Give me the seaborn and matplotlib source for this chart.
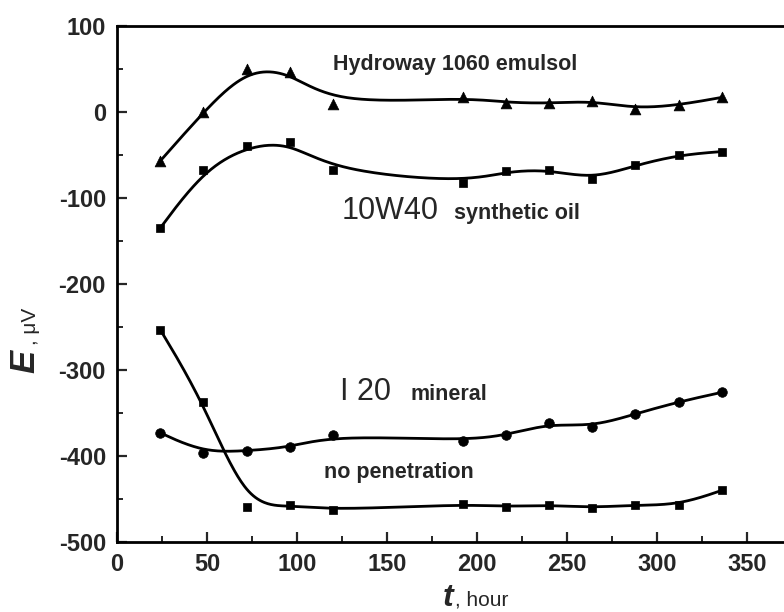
import numpy as np
import pandas as pd
import matplotlib
matplotlib.use("Agg")
import matplotlib.pyplot as plt
import seaborn as sns

# exposure time, hours
hours = [24, 48, 72, 96, 120, 192, 216, 240, 264, 288, 312, 336]

# E, microvolts
hydroway = [-57, 0, 50, 47, 9, 17, 11, 10, 13, 4, 8, 17]
synthetic = [-135, -68, -40, -35, -68, -82, -69, -67, -78, -62, -50, -46]
mineral = [-373, -396, -394, -390, -376, -382, -376, -362, -366, -351, -337, -326]
no_pen = [-253, -337, -459, -457, -463, -456, -459, -457, -460, -457, -457, -440]

series = [("hydroway", hydroway, "^", 60),
          ("synthetic", synthetic, "s", 38),
          ("mineral", mineral, "o", 48),
          ("no_pen", no_pen, "s", 38)]


def bspline(x, y, n=40):
    # clamped uniform cubic B-spline using the points as control points
    px = np.r_[[x[0]] * 2, x, [x[-1]] * 2].astype(float)
    py = np.r_[[y[0]] * 2, y, [y[-1]] * 2].astype(float)
    t = np.linspace(0, 1, n)
    b0 = (1 - t) ** 3 / 6
    b1 = (3 * t ** 3 - 6 * t ** 2 + 4) / 6
    b2 = (-3 * t ** 3 + 3 * t ** 2 + 3 * t + 1) / 6
    b3 = t ** 3 / 6
    xs, ys = [], []
    for i in range(len(px) - 3):
        xs.append(b0 * px[i] + b1 * px[i + 1] + b2 * px[i + 2] + b3 * px[i + 3])
        ys.append(b0 * py[i] + b1 * py[i + 1] + b2 * py[i + 2] + b3 * py[i + 3])
    return np.concatenate(xs), np.concatenate(ys)


sns.set_style("ticks")
plt.rcParams['font.family'] = ['Liberation Sans', 'DejaVu Sans']
plt.rcParams['axes.unicode_minus'] = False

fig = plt.figure(figsize=(7.84, 6.12), dpi=100)
ax = fig.add_axes([117 / 784, 70 / 612, 666 / 784, 516 / 612])

for name, vals, mk, sz in series:
    cx, cy = bspline(hours, vals)
    curve = pd.DataFrame({"t": cx, "E": cy})
    sns.lineplot(data=curve, x="t", y="E", sort=False, estimator=None,
                 color="black", linewidth=2.0, ax=ax)
    pts = pd.DataFrame({"t": hours, "E": vals})
    sns.scatterplot(data=pts, x="t", y="E", marker=mk, s=sz, color="black",
                    edgecolor="black", linewidth=0.5, ax=ax, zorder=3)

ax.set_xlim(0, 370)
ax.set_ylim(-500, 100)
ax.set_xticks(np.arange(0, 351, 50))
ax.set_xticks(np.arange(25, 370, 50), minor=True)
ax.set_yticks(np.arange(-500, 101, 100))
ax.set_yticks(np.arange(-450, 100, 100), minor=True)
ax.tick_params(which="major", direction="in", length=7, width=1.6,
               labelsize=17, pad=8)
ax.tick_params(which="minor", direction="in", length=4, width=1.4)
for lab in ax.get_xticklabels() + ax.get_yticklabels():
    lab.set_fontweight("bold")
for side in ["left", "bottom", "top"]:
    ax.spines[side].set_linewidth(2.0)
    ax.spines[side].set_color("black")
ax.spines["right"].set_visible(False)
ax.set_xlabel("")
ax.set_ylabel("")

# curve labels
ax.text(120, 55, "Hydroway 1060 emulsol", fontsize=15.5, fontweight="bold",
        va="center", ha="left")
ax.text(125, -124, "10W40", fontsize=22, va="baseline", ha="left")
ax.text(187, -124, "synthetic oil", fontsize=15.5, fontweight="bold",
        va="baseline", ha="left")
ax.text(124, -335, "I 20", fontsize=22, va="baseline", ha="left")
ax.text(163, -335, "mineral", fontsize=15.5, fontweight="bold",
        va="baseline", ha="left")
ax.text(115, -419, "no penetration", fontsize=15.5, fontweight="bold",
        va="center", ha="left")

# axis titles with mixed sizes
fig.text(25 / 784, 1 - 361 / 612, "E", fontsize=25, fontweight="bold",
         style="italic", rotation=90, ha="center", va="center")
fig.text(31 / 784, 1 - 326 / 612, ", \u03bcV", fontsize=15, rotation=90,
         ha="center", va="center")
fig.text(448 / 784, 1 - 606 / 612, "t", fontsize=23, fontweight="bold",
         style="italic", ha="center", va="baseline")
fig.text(455 / 784, 1 - 606 / 612, ", hour", fontsize=15, ha="left",
         va="baseline")

fig.savefig("out.png", dpi=100)
